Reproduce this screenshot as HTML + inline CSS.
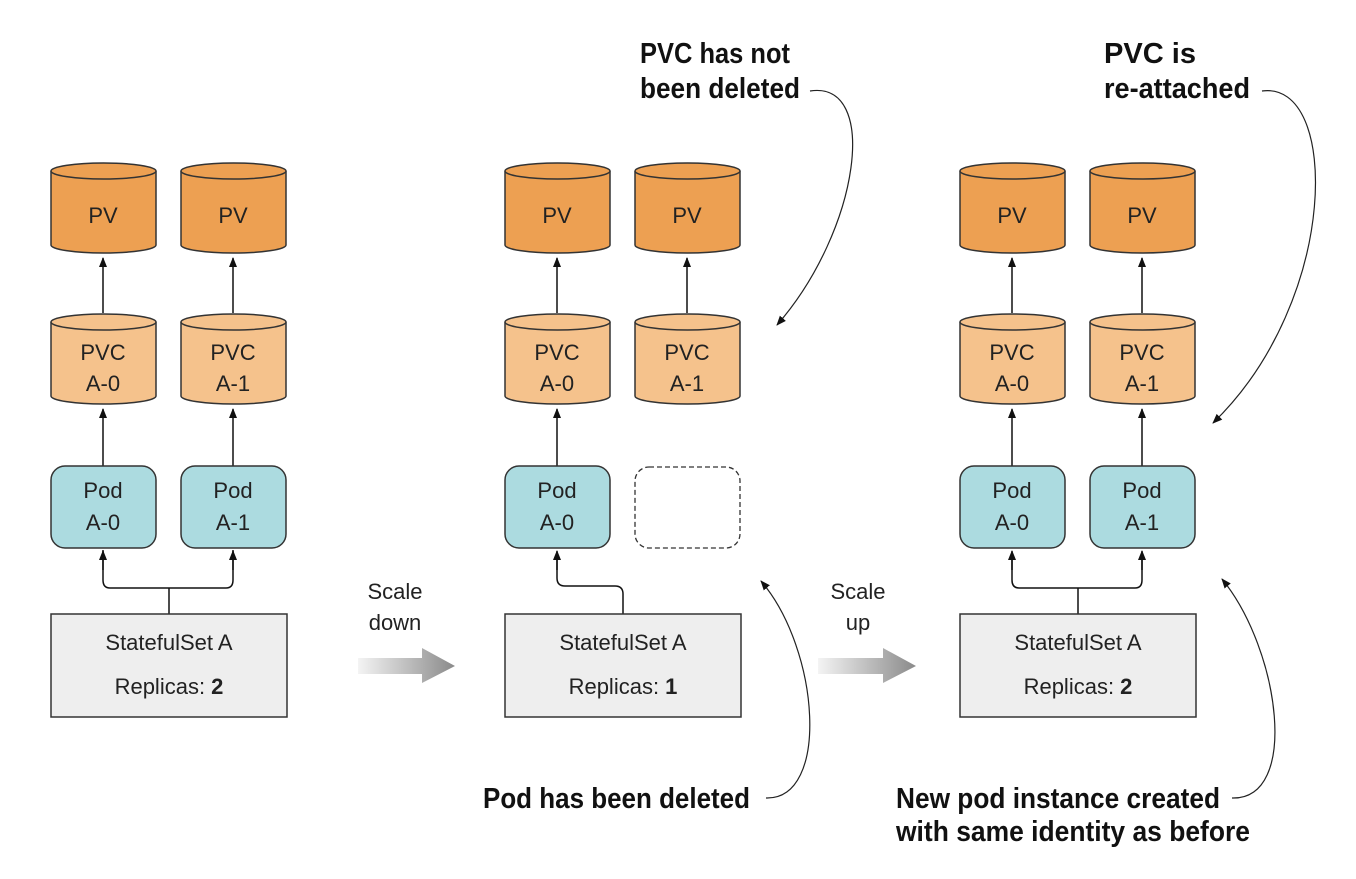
<!DOCTYPE html>
<html><head><meta charset="utf-8"><style>
body{margin:0;background:#fff}
svg text{font-family:"Liberation Sans",sans-serif}
.n{font-size:22px;fill:#222;text-anchor:middle}
.b{font-weight:bold;font-size:29px;fill:#111}
</style></head><body>
<svg width="1356" height="874" viewBox="0 0 1356 874" xmlns="http://www.w3.org/2000/svg">
<defs>
<marker id="a" markerWidth="10" markerHeight="10" refX="9" refY="5" orient="auto" markerUnits="userSpaceOnUse"><path d="M0,1 L10,5 L0,9 z" fill="#111"/></marker>
<linearGradient id="g" x1="0" x2="1"><stop offset="0" stop-color="#f4f4f4"/><stop offset="1" stop-color="#8a8a8a"/></linearGradient>
<g id="cylPV"><path d="M0,9 L0,83 A52.5,8 0 0 0 105,83 L105,9" fill="#eda052" stroke="#333" stroke-width="1.5"/><ellipse cx="52.5" cy="9" rx="52.5" ry="8" fill="#eda052" stroke="#333" stroke-width="1.5"/></g>
<g id="cylPVC"><path d="M0,9 L0,83 A52.5,8 0 0 0 105,83 L105,9" fill="#f5c28c" stroke="#333" stroke-width="1.5"/><ellipse cx="52.5" cy="9" rx="52.5" ry="8" fill="#f5c28c" stroke="#333" stroke-width="1.5"/></g>
</defs>

<g id="p1">
<use href="#cylPV" x="51" y="162"/><use href="#cylPV" x="181" y="162"/>
<text class="n" x="103" y="223">PV</text><text class="n" x="233" y="223">PV</text>
<use href="#cylPVC" x="51" y="313"/><use href="#cylPVC" x="181" y="313"/>
<text class="n" x="103" y="360">PVC</text><text class="n" x="103" y="391">A-0</text>
<text class="n" x="233" y="360">PVC</text><text class="n" x="233" y="391">A-1</text>
<line x1="103" y1="313" x2="103" y2="258" stroke="#111" stroke-width="1.5" marker-end="url(#a)"/>
<line x1="233" y1="313" x2="233" y2="258" stroke="#111" stroke-width="1.5" marker-end="url(#a)"/>
<line x1="103" y1="466" x2="103" y2="409" stroke="#111" stroke-width="1.5" marker-end="url(#a)"/>
<line x1="233" y1="466" x2="233" y2="409" stroke="#111" stroke-width="1.5" marker-end="url(#a)"/>
<rect x="51" y="466" width="105" height="82" rx="14" fill="#acdbe0" stroke="#333" stroke-width="1.5"/>
<rect x="181" y="466" width="105" height="82" rx="14" fill="#acdbe0" stroke="#333" stroke-width="1.5"/>
<text class="n" x="103" y="498">Pod</text><text class="n" x="103" y="530">A-0</text>
<text class="n" x="233" y="498">Pod</text><text class="n" x="233" y="530">A-1</text>
<path d="M169,614 V588 M110,588 H226 M110,588 Q103,588 103,580 V550 M226,588 Q233,588 233,580 V550" fill="none" stroke="#111" stroke-width="1.5"/>
<line x1="103" y1="570" x2="103" y2="551" stroke="#111" stroke-width="1.5" marker-end="url(#a)"/>
<line x1="233" y1="570" x2="233" y2="551" stroke="#111" stroke-width="1.5" marker-end="url(#a)"/>
<rect x="51" y="614" width="236" height="103" fill="#eeeeee" stroke="#333" stroke-width="1.5"/>
<text class="n" x="169" y="650">StatefulSet A</text>
<text class="n" x="169" y="694">Replicas: <tspan font-weight="bold">2</tspan></text>
</g>

<g transform="translate(454,0)">
<use href="#cylPV" x="51" y="162"/><use href="#cylPV" x="181" y="162"/>
<text class="n" x="103" y="223">PV</text><text class="n" x="233" y="223">PV</text>
<use href="#cylPVC" x="51" y="313"/><use href="#cylPVC" x="181" y="313"/>
<text class="n" x="103" y="360">PVC</text><text class="n" x="103" y="391">A-0</text>
<text class="n" x="233" y="360">PVC</text><text class="n" x="233" y="391">A-1</text>
<line x1="103" y1="313" x2="103" y2="258" stroke="#111" stroke-width="1.5" marker-end="url(#a)"/>
<line x1="233" y1="313" x2="233" y2="258" stroke="#111" stroke-width="1.5" marker-end="url(#a)"/>
<line x1="103" y1="466" x2="103" y2="409" stroke="#111" stroke-width="1.5" marker-end="url(#a)"/>
<rect x="51" y="466" width="105" height="82" rx="14" fill="#acdbe0" stroke="#333" stroke-width="1.5"/>
<rect x="181" y="467" width="105" height="81" rx="14" fill="none" stroke="#333" stroke-width="1.3" stroke-dasharray="5,3"/>
<text class="n" x="103" y="498">Pod</text><text class="n" x="103" y="530">A-0</text>
<path d="M169,614 V594 Q169,586 161,586 H111 Q103,586 103,578 V560" fill="none" stroke="#111" stroke-width="1.5"/>
<line x1="103" y1="570" x2="103" y2="551" stroke="#111" stroke-width="1.5" marker-end="url(#a)"/>
<rect x="51" y="614" width="236" height="103" fill="#eeeeee" stroke="#333" stroke-width="1.5"/>
<text class="n" x="169" y="650">StatefulSet A</text>
<text class="n" x="169" y="694">Replicas: <tspan font-weight="bold">1</tspan></text>
</g>

<g transform="translate(909,0)">
<use href="#cylPV" x="51" y="162"/><use href="#cylPV" x="181" y="162"/>
<text class="n" x="103" y="223">PV</text><text class="n" x="233" y="223">PV</text>
<use href="#cylPVC" x="51" y="313"/><use href="#cylPVC" x="181" y="313"/>
<text class="n" x="103" y="360">PVC</text><text class="n" x="103" y="391">A-0</text>
<text class="n" x="233" y="360">PVC</text><text class="n" x="233" y="391">A-1</text>
<line x1="103" y1="313" x2="103" y2="258" stroke="#111" stroke-width="1.5" marker-end="url(#a)"/>
<line x1="233" y1="313" x2="233" y2="258" stroke="#111" stroke-width="1.5" marker-end="url(#a)"/>
<line x1="103" y1="466" x2="103" y2="409" stroke="#111" stroke-width="1.5" marker-end="url(#a)"/>
<line x1="233" y1="466" x2="233" y2="409" stroke="#111" stroke-width="1.5" marker-end="url(#a)"/>
<rect x="51" y="466" width="105" height="82" rx="14" fill="#acdbe0" stroke="#333" stroke-width="1.5"/>
<rect x="181" y="466" width="105" height="82" rx="14" fill="#acdbe0" stroke="#333" stroke-width="1.5"/>
<text class="n" x="103" y="498">Pod</text><text class="n" x="103" y="530">A-0</text>
<text class="n" x="233" y="498">Pod</text><text class="n" x="233" y="530">A-1</text>
<path d="M169,614 V588 M110,588 H226 M110,588 Q103,588 103,580 V560 M226,588 Q233,588 233,580 V560" fill="none" stroke="#111" stroke-width="1.5"/>
<line x1="103" y1="570" x2="103" y2="551" stroke="#111" stroke-width="1.5" marker-end="url(#a)"/>
<line x1="233" y1="570" x2="233" y2="551" stroke="#111" stroke-width="1.5" marker-end="url(#a)"/>
<rect x="51" y="614" width="236" height="103" fill="#eeeeee" stroke="#333" stroke-width="1.5"/>
<text class="n" x="169" y="650">StatefulSet A</text>
<text class="n" x="169" y="694">Replicas: <tspan font-weight="bold">2</tspan></text>
</g>

<text class="n" x="395" y="599">Scale</text><text class="n" x="395" y="630">down</text>
<path d="M358,658 H422 V648 L455,666 L422,683 V674 H358 z" fill="url(#g)"/>
<text class="n" x="858" y="599">Scale</text><text class="n" x="858" y="630">up</text>
<path d="M818,658 H883 V648 L916,666 L883,683 V674 H818 z" fill="url(#g)"/>

<text class="b" x="640" y="63" textLength="150" lengthAdjust="spacingAndGlyphs">PVC has not</text>
<text class="b" x="640" y="98" textLength="160" lengthAdjust="spacingAndGlyphs">been deleted</text>
<path d="M810,91 C880,80 860,230 777,325" fill="none" stroke="#222" stroke-width="1.2" marker-end="url(#a)"/>
<text class="b" x="1104" y="63" textLength="92" lengthAdjust="spacingAndGlyphs">PVC is</text>
<text class="b" x="1104" y="98" textLength="146" lengthAdjust="spacingAndGlyphs">re-attached</text>
<path d="M1262,91 C1340,80 1340,300 1213,423" fill="none" stroke="#222" stroke-width="1.2" marker-end="url(#a)"/>
<text class="b" x="483" y="808" textLength="267" lengthAdjust="spacingAndGlyphs">Pod has been deleted</text>
<path d="M766,798 C830,800 820,650 761,581" fill="none" stroke="#222" stroke-width="1.2" marker-end="url(#a)"/>
<text class="b" x="896" y="808" textLength="324" lengthAdjust="spacingAndGlyphs">New pod instance created</text>
<text class="b" x="896" y="841" textLength="354" lengthAdjust="spacingAndGlyphs">with same identity as before</text>
<path d="M1232,798 C1300,800 1280,650 1222,579" fill="none" stroke="#222" stroke-width="1.2" marker-end="url(#a)"/>
</svg>
</body></html>
